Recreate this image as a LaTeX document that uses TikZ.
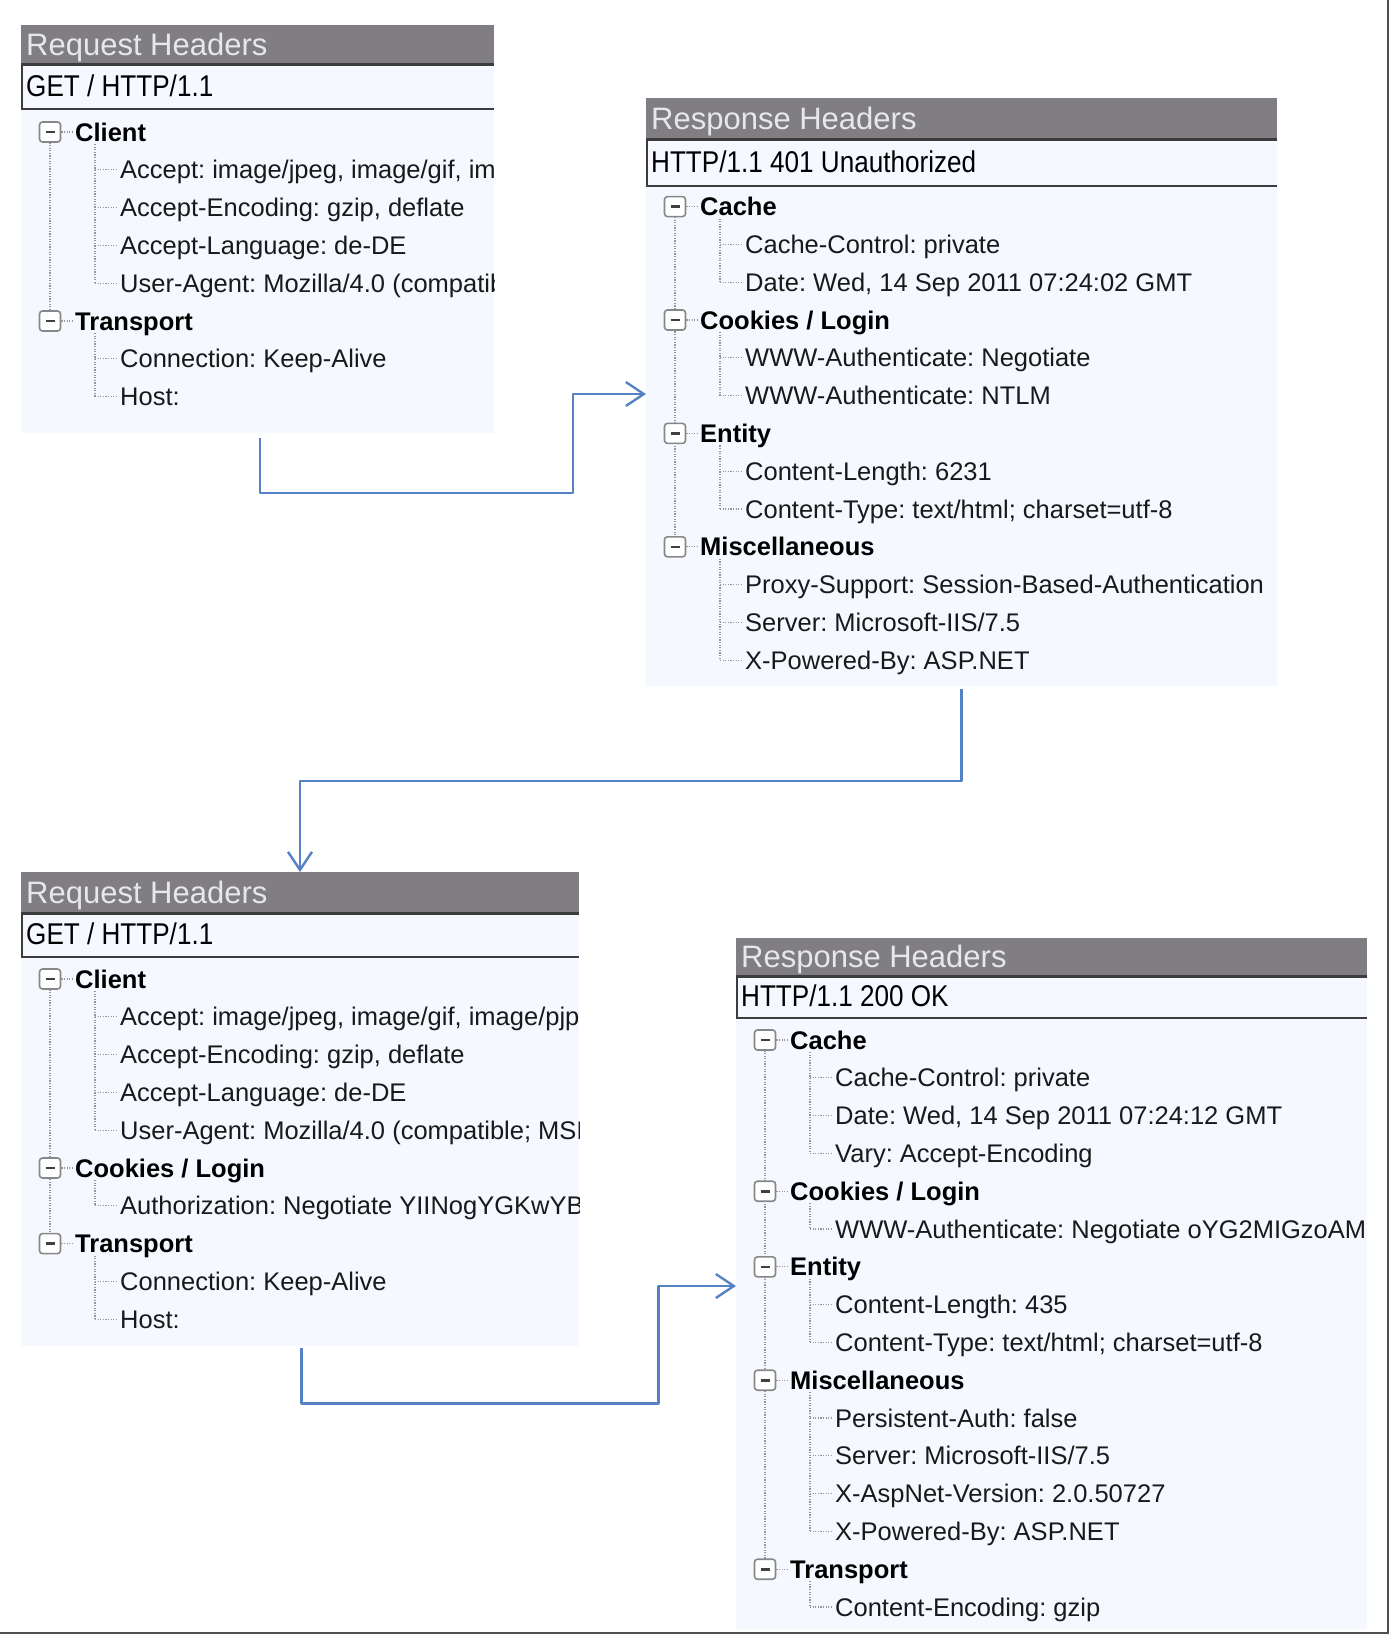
\documentclass[tikz,border=0pt]{standalone}
\usepackage{fontspec}
\setmainfont{Liberation Sans}
\newfontfamily\hdrfont[FakeStretch=0.87]{Liberation Sans}
\usetikzlibrary{arrows.meta}
\frenchspacing
\definecolor{bodybg}{RGB}{245,249,255}
\definecolor{titlebg}{RGB}{128,126,130}
\definecolor{titletxt}{RGB}{232,232,232}
\definecolor{darkln}{RGB}{60,60,60}
\definecolor{treegray}{RGB}{150,150,150}
\definecolor{boxgray}{RGB}{135,135,135}
\definecolor{connblue}{RGB}{84,130,196}
\definecolor{itemtxt}{RGB}{25,25,25}
\definecolor{framegray}{RGB}{80,80,80}

\tikzset{
 panelbg/.style={fill=bodybg, draw=none, inner sep=0pt, outer sep=0pt, anchor=north west, rectangle},
 titletext/.style={anchor=west, inner sep=0pt, text=titletxt, font=\fontsize{31pt}{36pt}\selectfont, text height=26pt, text depth=4pt},
 hdrtext/.style={anchor=west, inner sep=0pt, text=black, font=\hdrfont\fontsize{30pt}{36pt}\selectfont, text height=26pt, text depth=4pt},
 cattext/.style={anchor=west, inner sep=0pt, text=black, font=\fontsize{25.5pt}{30pt}\selectfont\bfseries, text height=22pt, text depth=4pt},
 itemtext/.style={anchor=west, inner sep=0pt, text=itemtxt, font=\fontsize{25.5pt}{30pt}\selectfont, text height=22pt, text depth=4pt},
 treeline/.style={draw=treegray, line width=1.2pt, dash pattern=on 1.2pt off 1.4pt},
 catbox/.style={draw=boxgray, fill=white, line width=1.6pt, rounded corners=3pt, minimum width=21pt, minimum height=20pt, inner sep=0pt,
   path picture={\draw[line width=2.6pt, draw=black!75] ([xshift=-4.5pt]path picture bounding box.center) -- ([xshift=4.5pt]path picture bounding box.center);}},
 conn/.style={draw=connblue, line width=2.4pt, line join=round, -{Straight Barb[length=18pt,width=24pt]}},
 framel/.style={draw=framegray, line width=2.5pt},
}

% #1 name, #2 L, #3 T, #4 R, #5 D, #6 H, #7 B, #8 title, #9 header
\newcommand\mkpanel[9]{%
 \node[panelbg, minimum width={#4-#2}, minimum height={#7-#3}] (#1) at (#2,#3) {};
 \fill[titlebg] (#2,#3) rectangle (#4,#5);
 \fill[darkln] (#2,#5) rectangle (#4,#5+3);
 \draw[draw=darkln, line width=2pt] (#2+1,#5+3) -- (#2+1,#6-1) -- (#4,#6-1);
 \node[titletext] (#1title) at (#2+5,{(#3+#5)/2}) {#8};
 \node[hdrtext] (#1head) at (#2+5,{(#5+3+#6)/2-3}) {#9};
}
% #1 name, #2 L, #3 y, #4 text
\newcommand\mkcat[4]{%
 \node[catbox] (#1x) at ({#2+29},{#3}) {};
 \draw[treeline] (#1x.east) -- ++(12,0);
 \node[cattext] (#1) at ({#2+54},{#3}) {#4};
}
\newcommand\mkitem[4]{%
 \draw[treeline] ({#2+74},{#3}) -- ({#2+96},{#3});
 \node[itemtext] (#1) at ({#2+99},{#3}) {#4};
}
\newcommand\mkvert[3]{\draw[treeline] ({#1},{#2}) -- ({#1},{#3});}

\begin{document}
\begin{tikzpicture}[x=1pt,y=-1pt]
\useasboundingbox (0,0) rectangle (1391,1636);

% ---------- Panel 1: Request Headers ----------
\mkpanel{P1}{21}{25}{494}{63}{110}{433}{Request Headers}{GET / HTTP/1.1}
\begin{scope}
\clip (21,25) rectangle (494,433);
\mkvert{50}{132}{321}
\mkvert{95}{144}{283.2}
\mkvert{95}{333}{396.6}
\mkcat{p1r0}{21}{132}{Client}
\mkitem{p1r1}{21}{169.8}{Accept: image/jpeg, image/gif, image/pjpeg}
\mkitem{p1r2}{21}{207.6}{Accept-Encoding: gzip, deflate}
\mkitem{p1r3}{21}{245.4}{Accept-Language: de-DE}
\mkitem{p1r4}{21}{283.2}{User-Agent: Mozilla/4.0 (compatible}
\mkcat{p1r5}{21}{321}{Transport}
\mkitem{p1r6}{21}{358.8}{Connection: Keep-Alive}
\mkitem{p1r7}{21}{396.6}{Host:}
\end{scope}

% ---------- Panel 2: Response Headers ----------
\mkpanel{P2}{646}{98}{1277}{138}{187}{686}{Response Headers}{HTTP/1.1 401 Unauthorized}
\begin{scope}
\clip (646,98) rectangle (1277,686);
\mkvert{675}{206.6}{546.8}
\mkvert{720}{218.6}{282.2}
\mkvert{720}{332}{395.6}
\mkvert{720}{445.4}{509}
\mkvert{720}{558.8}{660.2}
\mkcat{p2r0}{646}{206.6}{Cache}
\mkitem{p2r1}{646}{244.4}{Cache-Control: private}
\mkitem{p2r2}{646}{282.2}{Date: Wed, 14 Sep 2011 07:24:02 GMT}
\mkcat{p2r3}{646}{320}{Cookies / Login}
\mkitem{p2r4}{646}{357.8}{WWW-Authenticate: Negotiate}
\mkitem{p2r5}{646}{395.6}{WWW-Authenticate: NTLM}
\mkcat{p2r6}{646}{433.4}{Entity}
\mkitem{p2r7}{646}{471.2}{Content-Length: 6231}
\mkitem{p2r8}{646}{509}{Content-Type: text/html; charset=utf-8}
\mkcat{p2r9}{646}{546.8}{Miscellaneous}
\mkitem{p2r10}{646}{584.6}{Proxy-Support: Session-Based-Authentication}
\mkitem{p2r11}{646}{622.4}{Server: Microsoft-IIS/7.5}
\mkitem{p2r12}{646}{660.2}{X-Powered-By: ASP.NET}
\end{scope}

% ---------- Panel 3: Request Headers ----------
\mkpanel{P3}{21}{872}{579}{912}{958}{1346}{Request Headers}{GET / HTTP/1.1}
\begin{scope}
\clip (21,872) rectangle (579,1346);
\mkvert{50}{979}{1243.6}
\mkvert{95}{991}{1130.2}
\mkvert{95}{1180}{1205.8}
\mkvert{95}{1255.6}{1319.2}
\mkcat{p3r0}{21}{979}{Client}
\mkitem{p3r1}{21}{1016.8}{Accept: image/jpeg, image/gif, image/pjpeg}
\mkitem{p3r2}{21}{1054.6}{Accept-Encoding: gzip, deflate}
\mkitem{p3r3}{21}{1092.4}{Accept-Language: de-DE}
\mkitem{p3r4}{21}{1130.2}{User-Agent: Mozilla/4.0 (compatible; MSIE}
\mkcat{p3r5}{21}{1168}{Cookies / Login}
\mkitem{p3r6}{21}{1205.8}{Authorization: Negotiate YIINogYGKwYB}
\mkcat{p3r7}{21}{1243.6}{Transport}
\mkitem{p3r8}{21}{1281.4}{Connection: Keep-Alive}
\mkitem{p3r9}{21}{1319.2}{Host:}
\end{scope}

% ---------- Panel 4: Response Headers ----------
\mkpanel{P4}{736}{938}{1367}{975}{1019}{1629}{Response Headers}{HTTP/1.1 200 OK}
\begin{scope}
\clip (736,938) rectangle (1367,1629);
\mkvert{765}{1040}{1569.2}
\mkvert{810}{1052}{1153.4}
\mkvert{810}{1203.2}{1229}
\mkvert{810}{1278.8}{1342.4}
\mkvert{810}{1392.2}{1531.4}
\mkvert{810}{1581.2}{1607}
\mkcat{p4r0}{736}{1040}{Cache}
\mkitem{p4r1}{736}{1077.8}{Cache-Control: private}
\mkitem{p4r2}{736}{1115.6}{Date: Wed, 14 Sep 2011 07:24:12 GMT}
\mkitem{p4r3}{736}{1153.4}{Vary: Accept-Encoding}
\mkcat{p4r4}{736}{1191.2}{Cookies / Login}
\mkitem{p4r5}{736}{1229}{WWW-Authenticate: Negotiate oYG2MIGzoAMK}
\mkcat{p4r6}{736}{1266.8}{Entity}
\mkitem{p4r7}{736}{1304.6}{Content-Length: 435}
\mkitem{p4r8}{736}{1342.4}{Content-Type: text/html; charset=utf-8}
\mkcat{p4r9}{736}{1380.2}{Miscellaneous}
\mkitem{p4r10}{736}{1418}{Persistent-Auth: false}
\mkitem{p4r11}{736}{1455.8}{Server: Microsoft-IIS/7.5}
\mkitem{p4r12}{736}{1493.6}{X-AspNet-Version: 2.0.50727}
\mkitem{p4r13}{736}{1531.4}{X-Powered-By: ASP.NET}
\mkcat{p4r14}{736}{1569.2}{Transport}
\mkitem{p4r15}{736}{1607}{Content-Encoding: gzip}
\end{scope}

% ---------- connectors ----------
\coordinate (a1y) at (0,394);
\coordinate (a3y) at (0,1286);
\draw[conn] ([xshift=2.5pt,yshift=-5pt]P1.south) -- ++(0,55) -- ++(313,0) |- (P2.west |- a1y);
\draw[conn] ([yshift=-3pt]P2.south) -- ++(0,92) -| (P3.north);
\draw[conn] ([xshift=1.6pt,yshift=-2pt]P3.south) -- ++(0,55.5) -- ++(357,0) |- (P4.west |- a3y);

% ---------- frame (right and bottom edge) ----------
\draw[framel] (1388,0) -- (1388,1633) -- (0,1633);
\end{tikzpicture}
\end{document}
